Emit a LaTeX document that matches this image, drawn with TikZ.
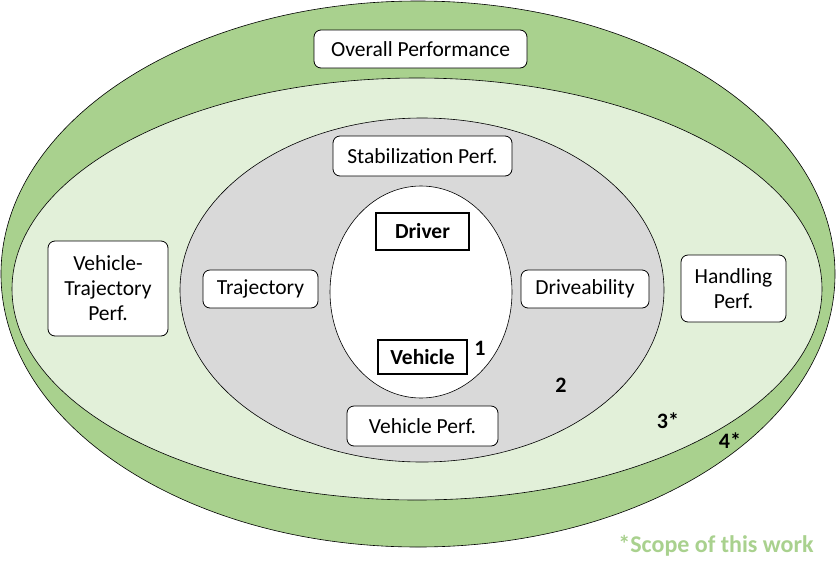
\documentclass[tikz,border=0pt]{standalone}
\usepackage{fontspec}
\setmainfont{Carlito}
\definecolor{ogreen}{HTML}{A9D18E}
\definecolor{lgreen}{HTML}{E2F0D9}
\definecolor{lgray}{HTML}{D9D9D9}
\begin{document}
\begin{tikzpicture}[x=1pt,y=-1pt,
  every node/.style={font=\fontsize{21.5}{25}\selectfont},
  pbox/.style={draw=black, fill=white, rounded corners=7pt, line width=0.8pt, align=center, inner sep=0pt},
  core/.style={draw=black, fill=white, line width=2.6pt, font=\fontsize{21.5}{25}\selectfont\bfseries, inner sep=0pt},
  lbl/.style={font=\fontsize{22}{26}\selectfont\bfseries},
  ring/.style={draw=black, line width=0.6pt}]
\useasboundingbox (0,0) rectangle (837,576);
\fill[white] (0,0) rectangle (837,576);
\draw[ring, fill=ogreen] (418,274) ellipse [x radius=417, y radius=273];
\draw[ring, fill=lgreen] (417,289) ellipse [x radius=405, y radius=211];
\draw[ring, fill=lgray] (422,290) ellipse [x radius=242, y radius=172];
\draw[ring, fill=white] (421,292) ellipse [x radius=91, y radius=106];
\node[pbox, minimum width=213, minimum height=38] (overall) at (420.5,49) {Overall Performance};
\node[pbox, minimum width=179, minimum height=40] (stab) at (422.5,156) {Stabilization Perf.};
\node[pbox, minimum width=115, minimum height=38] (traj) at (260.5,289) {Trajectory};
\node[pbox, minimum width=128, minimum height=38] (drive) at (585,289) {Driveability};
\node[pbox, minimum width=151, minimum height=40] (vperf) at (422.5,426) {Vehicle Perf.};
\node[pbox, minimum width=120, minimum height=95] (vtraj) at (108,288.5) {Vehicle-\\Trajectory\\Perf.};
\node[pbox, minimum width=105, minimum height=67] (handl) at (733.5,288.5) {Handling\\Perf.};
\node[core, minimum width=93, minimum height=37] (driver) at (422.5,231.5) {Driver};
\node[core, minimum width=89, minimum height=34] (vehicle) at (422.5,357) {Vehicle};
\node[lbl] (n1) at (480,348) {1};
\node[lbl] (n2) at (561,385) {2};
\node[lbl] (n3) at (668,421) {3*};
\node[lbl] (n4) at (730,441) {4*};
\node[font=\fontsize{24}{28}\selectfont\bfseries, text=ogreen] (scope) at (716,546) {*Scope of this work};
\end{tikzpicture}
\end{document}
